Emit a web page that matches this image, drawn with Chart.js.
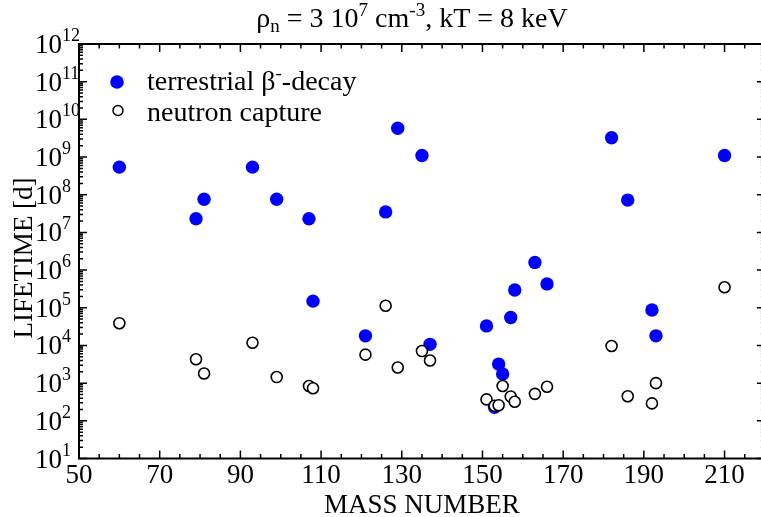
<!DOCTYPE html>
<html>
<head>
<meta charset="utf-8">
<script src="https://cdn.jsdelivr.net/npm/chart.js@4/dist/chart.umd.min.js"></script>
<style>
html,body{margin:0;padding:0;overflow:hidden;background:#fff;}
canvas{display:block;}
</style>
</head>
<body>
<canvas id="c" width="772" height="517" style="width:772px;height:517px"></canvas>
<script>
// ---- data ----
const massBeta = [60, 79, 81, 93, 99, 107, 108, 121, 126, 129, 135, 137, 151, 153, 154, 155, 157, 158, 163, 166, 182, 186, 192, 193, 210];
const lifeBeta = [5.4e8, 2.3e7, 7.6e7, 5.4e8, 7.6e7, 2.3e7, 1.5e5, 1.8e4, 3.5e7, 5.8e9, 1.1e9, 1.07e4, 3.3e4, 2.3e2, 3.2e3, 1.75e3, 5.5e4, 2.95e5, 1.6e6, 4.3e5, 3.25e9, 7.2e7, 8.7e4, 1.8e4, 1.1e9];
const massCapture = [60, 79, 81, 93, 99, 107, 108, 121, 126, 129, 135, 137, 151, 153, 154, 155, 157, 158, 163, 166, 182, 186, 192, 193, 210];
const lifeCapture = [3.9e4, 4.3e3, 1.8e3, 1.18e4, 1.45e3, 8.4e2, 7.3e2, 5.7e3, 1.13e5, 2.6e3, 7.1e3, 4.0e3, 3.7e2, 2.5e2, 2.6e2, 8.4e2, 4.4e2, 3.2e2, 5.2e2, 8.0e2, 9.7e3, 4.5e2, 2.9e2, 1.0e3, 3.5e5];
const xTickValues = [50, 70, 90, 110, 130, 150, 170, 190, 210];
const xTickLabels = ['50', '70', '90', '110', '130', '150', '170', '190', '210'];
const yTickExponents = [1, 2, 3, 4, 5, 6, 7, 8, 9, 10, 11, 12];
const labelBeta = 'terrestrial β';
const labelCapture = 'neutron capture';
const xTitle = 'MASS NUMBER';
const yTitle = 'LIFETIME [d]';

const FONT = '"Liberation Serif", "Times New Roman", Times, serif';

function drawRich(ctx, parts, x, y, align) {
  let w = 0;
  parts.forEach(p => { ctx.font = p.s + 'px ' + FONT; p.w = ctx.measureText(p.t).width; w += p.w; });
  let cx = align === 'center' ? x - w / 2 : (align === 'right' ? x - w : x);
  ctx.textAlign = 'left';
  ctx.textBaseline = 'alphabetic';
  parts.forEach(p => { ctx.font = p.s + 'px ' + FONT; ctx.fillText(p.t, cx, y + (p.dy || 0)); cx += p.w; });
}

const framePlugin = {
  id: 'frame',
  afterDraw(chart) {
    const ctx = chart.ctx;
    const a = chart.chartArea;
    const xs = chart.scales.x, ys = chart.scales.y;
    ctx.save();
    ctx.fillStyle = '#000';
    ctx.strokeStyle = '#000';
    // ticks
    ctx.lineWidth = 1.5;
    ctx.beginPath();
    for (let v = 50; v <= 220; v += 5) {
      const px = xs.getPixelForValue(v);
      const len = ((v - 50) % 20 === 0) ? 8 : 4.5;
      ctx.moveTo(px, a.bottom); ctx.lineTo(px, a.bottom - len);
      ctx.moveTo(px, a.top); ctx.lineTo(px, a.top + len);
    }
    for (let k = 1; k <= 12; k++) {
      const py = ys.getPixelForValue(Math.pow(10, k));
      ctx.moveTo(a.left, py); ctx.lineTo(a.left + 8, py);
      ctx.moveTo(a.right, py); ctx.lineTo(a.right - 8, py);
      if (k < 12) {
        for (let m = 2; m <= 9; m++) {
          const q = ys.getPixelForValue(m * Math.pow(10, k));
          ctx.moveTo(a.left, q); ctx.lineTo(a.left + 4, q);
          ctx.moveTo(a.right, q); ctx.lineTo(a.right - 4, q);
        }
      }
    }
    ctx.stroke();
    // frame
    ctx.lineWidth = 2;
    ctx.strokeRect(a.left, a.top, a.right - a.left, a.bottom - a.top);

    // x tick labels
    ctx.font = '27px ' + FONT;
    ctx.textAlign = 'center';
    ctx.textBaseline = 'alphabetic';
    xTickValues.forEach((v, i) => {
      ctx.fillText(xTickLabels[i], xs.getPixelForValue(v), 483);
    });
    // y tick labels 10^k
    yTickExponents.forEach(k => {
      const py = ys.getPixelForValue(Math.pow(10, k));
      ctx.font = '27px ' + FONT;
      ctx.textAlign = 'right';
      ctx.fillText('10', 62, py + 9);
      ctx.font = '18px ' + FONT;
      ctx.textAlign = 'left';
      ctx.fillText(String(k), 62, py - 3);
    });
    // axis titles
    ctx.font = '27px ' + FONT;
    ctx.textAlign = 'center';
    ctx.fillText(xTitle, (a.left + a.right) / 2, 513);
    ctx.save();
    ctx.translate(32, 258);
    ctx.rotate(-Math.PI / 2);
    ctx.fillText(yTitle, 0, 0);
    ctx.restore();

    // title
    drawRich(ctx, [
      {t: 'ρ', s: 28}, {t: 'n', s: 19, dy: 5}, {t: ' = 3 10', s: 28}, {t: '7', s: 19, dy: -11},
      {t: ' cm', s: 28}, {t: '-3', s: 19, dy: -11}, {t: ', kT = 8 keV', s: 28}
    ], 412, 27, 'center');

    // legend
    ctx.beginPath();
    ctx.fillStyle = '#0000ff';
    ctx.arc(117, 82, 6.8, 0, Math.PI * 2);
    ctx.fill();
    ctx.beginPath();
    ctx.strokeStyle = '#000';
    ctx.lineWidth = 1.5;
    ctx.fillStyle = '#fff';
    ctx.arc(118, 110.5, 5, 0, Math.PI * 2);
    ctx.fill(); ctx.stroke();
    ctx.fillStyle = '#000';
    drawRich(ctx, [{t: labelBeta, s: 28}, {t: '-', s: 19, dy: -11}, {t: '-decay', s: 28}], 147, 90, 'left');
    drawRich(ctx, [{t: labelCapture, s: 28}], 147, 120.5, 'left');
    ctx.restore();
  }
};

new Chart(document.getElementById('c'), {
  type: 'scatter',
  data: {
    datasets: [
      {
        label: labelCapture,
        data: massCapture.map((m, i) => ({x: m, y: lifeCapture[i]})),
        pointRadius: 5.5,
        pointBackgroundColor: '#ffffff',
        pointBorderColor: '#000000',
        pointBorderWidth: 1.6,
        order: 1
      },
      {
        label: labelBeta + '⁻-decay',
        data: massBeta.map((m, i) => ({x: m, y: lifeBeta[i]})),
        pointRadius: 6.7,
        pointBackgroundColor: '#0000ff',
        pointBorderColor: '#0000ff',
        pointBorderWidth: 0,
        order: 2
      }
    ]
  },
  options: {
    responsive: false,
    animation: false,
    devicePixelRatio: 1,
    layout: {padding: {left: 79, top: 44, right: 4.5, bottom: 58.5}},
    plugins: {legend: {display: false}, tooltip: {enabled: false}, title: {display: false}},
    scales: {
      x: {
        type: 'linear', min: 50, max: 220,
        ticks: {display: false}, grid: {display: false}, border: {display: false},
        afterFit(s) { s.height = 0; }
      },
      y: {
        type: 'logarithmic', min: 10, max: 1e12,
        ticks: {display: false}, grid: {display: false}, border: {display: false},
        afterFit(s) { s.width = 0; }
      }
    }
  },
  plugins: [framePlugin]
});
</script>
</body>
</html>
